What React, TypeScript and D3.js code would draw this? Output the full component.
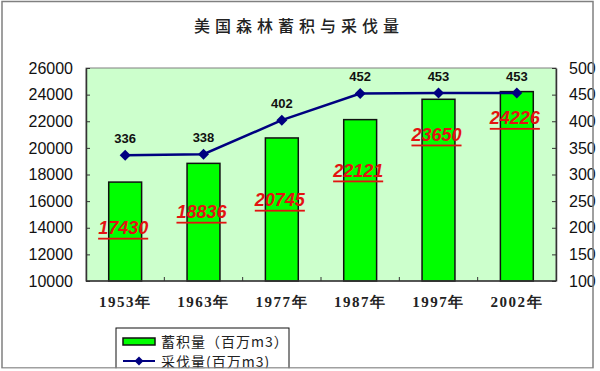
import React, { useEffect, useRef } from "react";
import * as d3 from "d3";

const years = ["1953年", "1963年", "1977年", "1987年", "1997年", "2002年"];
const stock = [17430, 18836, 20745, 22121, 23650, 24226];
const harvest = [336, 338, 402, 452, 453, 453];
const stockTicks = [10000, 12000, 14000, 16000, 18000, 20000, 22000, 24000, 26000];
const harvestTicks = [100, 150, 200, 250, 300, 350, 400, 450, 500];
// where the red stock labels sit, in left-axis units (placed by hand in the original)
const stockLabelAt = [14000, 15200, 16100, 18300, 21000, 22250];

const App = () => {
  const svgRef = useRef<SVGSVGElement>(null);

  useEffect(() => {
    const width = 600;
    const height = 371;
    const left = 86;
    const right = 556;
    const top = 68;
    const bottom = 281;

    const svg = d3.select(svgRef.current).attr("width", width).attr("height", height);
    svg.selectAll("*").remove();

    svg.append("rect").attr("width", width).attr("height", height).attr("fill", "#fff");

    const x = d3.scaleBand().domain(years).range([left, right]).paddingInner(0.58).paddingOuter(0.29);
    const yL = d3.scaleLinear().domain([10000, 26000]).range([bottom, top]);
    const yR = d3.scaleLinear().domain([100, 500]).range([bottom, top]);
    const cx = (d: string) => (x(d) as number) + x.bandwidth() / 2;

    // title
    svg
      .append("text")
      .attr("x", 299)
      .attr("y", 25)
      .attr("text-anchor", "middle")
      .attr("dominant-baseline", "central")
      .style("font-family", "'Noto Sans CJK SC', sans-serif")
      .style("font-size", "16px")
      .style("font-weight", "500")
      .style("letter-spacing", "5px")
      .attr("fill", "#222")
      .text("美国森林蓄积与采伐量");

    // plot area
    svg
      .append("rect")
      .attr("x", left)
      .attr("y", top)
      .attr("width", right - left)
      .attr("height", bottom - top)
      .attr("fill", "#ccffcc")
      .attr("stroke", "#808080")
      .attr("stroke-width", 1);

    // bars
    svg
      .append("g")
      .selectAll("rect")
      .data(years)
      .join("rect")
      .attr("x", (d) => x(d) as number)
      .attr("y", (d, i) => yL(stock[i]))
      .attr("width", x.bandwidth())
      .attr("height", (d, i) => bottom - yL(stock[i]))
      .attr("fill", "#00ff00")
      .attr("stroke", "#111")
      .attr("stroke-width", 1.5);

    // left axis
    const axL = svg
      .append("g")
      .attr("transform", `translate(${left},0)`)
      .call(
        d3.axisLeft(yL).tickValues(stockTicks).tickFormat(d3.format("d")).tickSizeInner(-4).tickSizeOuter(0).tickPadding(13)
      );
    axL.select(".domain").attr("stroke", "#333").attr("stroke-width", 1.5);
    axL.selectAll(".tick line").attr("stroke", "#333");
    axL
      .selectAll("text")
      .style("font-family", "Arial, 'Liberation Sans', sans-serif")
      .style("font-size", "16px")
      .attr("fill", "#111");

    // right axis
    const axR = svg
      .append("g")
      .attr("transform", `translate(${right},0)`)
      .call(
        d3.axisRight(yR).tickValues(harvestTicks).tickFormat(d3.format("d")).tickSizeInner(-4).tickSizeOuter(0).tickPadding(13)
      );
    axR.select(".domain").attr("stroke", "#333").attr("stroke-width", 1.5);
    axR.selectAll(".tick line").attr("stroke", "#333");
    axR
      .selectAll("text")
      .style("font-family", "Arial, 'Liberation Sans', sans-serif")
      .style("font-size", "16px")
      .attr("fill", "#111");

    // bottom axis
    const axB = svg.append("g").attr("transform", `translate(0,${bottom})`);
    axB.append("line").attr("x1", left).attr("x2", right).attr("stroke", "#333").attr("stroke-width", 1.5);
    axB
      .selectAll("line.tk")
      .data(years.slice(1))
      .join("line")
      .attr("class", "tk")
      .attr("x1", (d) => (x(d) as number) - (x.step() * x.paddingInner()) / 2)
      .attr("x2", (d) => (x(d) as number) - (x.step() * x.paddingInner()) / 2)
      .attr("y1", 0)
      .attr("y2", -4)
      .attr("stroke", "#333");
    axB
      .selectAll("text")
      .data(years)
      .join("text")
      .attr("x", (d) => cx(d))
      .attr("y", 21)
      .attr("text-anchor", "middle")
      .attr("dominant-baseline", "central")
      .style("font-family", "'Liberation Serif', 'Times New Roman', serif")
      .style("font-weight", "bold")
      .style("font-size", "15px")
      .style("letter-spacing", "1.5px")
      .attr("fill", "#222")
      .text((d) => d);

    // red stock labels
    svg
      .append("g")
      .selectAll("text")
      .data(years)
      .join("text")
      .attr("x", (d) => cx(d) - 2)
      .attr("y", (d, i) => yL(stockLabelAt[i]))
      .attr("text-anchor", "middle")
      .attr("dominant-baseline", "central")
      .style("font-family", "Arial, 'Liberation Sans', sans-serif")
      .style("font-weight", "bold")
      .style("font-style", "italic")
      .style("font-size", "18px")
      .style("text-decoration", "underline")
      .attr("fill", "#e31212")
      .text((d, i) => stock[i]);

    // harvest line
    const line = d3
      .line<number>()
      .x((d, i) => cx(years[i]))
      .y((d) => yR(d));
    svg
      .append("path")
      .datum(harvest)
      .attr("d", line)
      .attr("fill", "none")
      .attr("stroke", "#000080")
      .attr("stroke-width", 2.5);

    svg
      .append("g")
      .selectAll("path")
      .data(harvest)
      .join("path")
      .attr("transform", (d, i) => `translate(${cx(years[i])},${yR(d)})`)
      .attr("d", "M0,-5.5L5.5,0L0,5.5L-5.5,0Z")
      .attr("fill", "#000080");

    svg
      .append("g")
      .selectAll("text")
      .data(harvest)
      .join("text")
      .attr("x", (d, i) => cx(years[i]))
      .attr("y", (d) => yR(d) - 17)
      .attr("text-anchor", "middle")
      .attr("dominant-baseline", "central")
      .style("font-family", "Arial, 'Liberation Sans', sans-serif")
      .style("font-weight", "bold")
      .style("font-size", "13px")
      .attr("fill", "#111")
      .text((d) => d);

    // legend
    const lg = svg.append("g");
    lg.append("rect")
      .attr("x", 116)
      .attr("y", 328)
      .attr("width", 173)
      .attr("height", 44)
      .attr("fill", "#fff")
      .attr("stroke", "#111");
    lg.append("rect")
      .attr("x", 123)
      .attr("y", 338)
      .attr("width", 32)
      .attr("height", 7)
      .attr("fill", "#00ff00")
      .attr("stroke", "#111")
      .attr("stroke-width", 1.5);
    lg.append("line")
      .attr("x1", 123)
      .attr("x2", 155)
      .attr("y1", 361)
      .attr("y2", 361)
      .attr("stroke", "#000080")
      .attr("stroke-width", 2);
    lg.append("path")
      .attr("transform", "translate(139,361)")
      .attr("d", "M0,-4.5L4.5,0L0,4.5L-4.5,0Z")
      .attr("fill", "#000080");
    const legendText = ["蓄积量（百万m3）", "采伐量(百万m3)"];
    lg.selectAll("text")
      .data(legendText)
      .join("text")
      .attr("x", 161)
      .attr("y", (d, i) => 341 + i * 20)
      .attr("dominant-baseline", "central")
      .style("font-family", "'Noto Sans CJK SC', sans-serif")
      .style("font-size", "14px")
      .style("letter-spacing", "1px")
      .attr("fill", "#222")
      .text((d) => d);

    // outer frame
    svg
      .append("rect")
      .attr("x", 2)
      .attr("y", 1.5)
      .attr("width", 591)
      .attr("height", 366.5)
      .attr("fill", "none")
      .attr("stroke", "#808080")
      .attr("stroke-width", 1.5);
    svg
      .append("rect")
      .attr("x", 0)
      .attr("y", 368.5)
      .attr("width", width)
      .attr("height", 3)
      .attr("fill", "#fff");
  }, []);

  return (
    <div style={{ position: "fixed", left: 0, top: 0 }}>
      <svg ref={svgRef} style={{ display: "block" }}></svg>
    </div>
  );
};

export default App;
